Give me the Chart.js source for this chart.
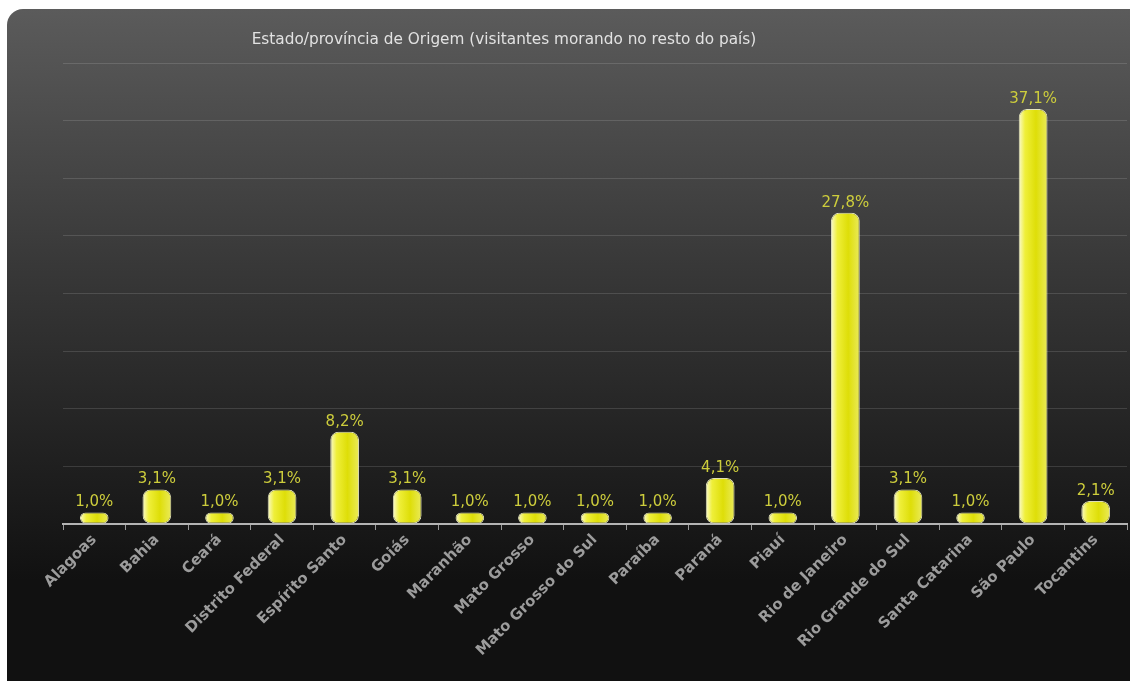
<!DOCTYPE html>
<html><head><meta charset="utf-8">
<script src="https://cdn.jsdelivr.net/npm/chart.js@4/dist/chart.umd.min.js"></script>
<style>html,body{margin:0;padding:0;background:#fff;overflow:hidden}#wrap{width:1130px;height:681px;position:relative}</style>
</head><body><div id="wrap"><canvas id="c" width="1130" height="681"></canvas></div>
<script>
const titleText = 'Estado/província de Origem (visitantes morando no resto do país)';
const categories = ['Alagoas','Bahia','Ceará','Distrito Federal','Espírito Santo','Goiás','Maranhão','Mato Grosso','Mato Grosso do Sul','Paraíba','Paraná','Piauí','Rio de Janeiro','Rio Grande do Sul','Santa Catarina','São Paulo','Tocantins'];
const counts = [1,3,1,3,8,3,1,1,1,1,4,1,27,3,1,36,2];
const percents = [1.0,3.1,1.0,3.1,8.2,3.1,1.0,1.0,1.0,1.0,4.1,1.0,27.8,3.1,1.0,37.1,2.1];
const yMax = 40;
const yStep = 5;

const BAR_PCT = 0.46;

const panelPlugin = {
  id: 'panel',
  beforeDraw(chart) {
    const ctx = chart.ctx;
    ctx.save();
    const x = 7, y = 9, w = 1150, h = 700, r = 16;
    const g = ctx.createLinearGradient(0, y, 0, 580);
    g.addColorStop(0, '#5b5b5b');
    g.addColorStop(0.45, '#383838');
    g.addColorStop(1, '#111111');
    ctx.fillStyle = g;
    ctx.beginPath();
    ctx.roundRect(x, y, w, h, r);
    ctx.fill();
    ctx.restore();
  },
  afterDraw(chart) {
    const ctx = chart.ctx;
    ctx.save();
    ctx.font = '15.3px "DejaVu Sans"';
    ctx.fillStyle = '#e2e2e2';
    ctx.textAlign = 'center';
    ctx.textBaseline = 'middle';
    ctx.fillText(titleText, 504, 40);
    ctx.restore();
  }
};

const labelPlugin = {
  id: 'valueLabels',
  afterDatasetsDraw(chart) {
    const ctx = chart.ctx;
    const meta = chart.getDatasetMeta(0);
    ctx.save();
    ctx.font = '15px "DejaVu Sans"';
    ctx.fillStyle = '#cdcd3c';
    ctx.textAlign = 'center';
    ctx.textBaseline = 'alphabetic';
    meta.data.forEach((el, i) => {
      ctx.fillText(percents[i].toFixed(1).replace('.', ',') + '%', el.x, el.y - 6);
    });
    ctx.restore();
  }
};

new Chart(document.getElementById('c'), {
  type: 'bar',
  data: {
    labels: categories,
    datasets: [{
      data: counts,
      barPercentage: BAR_PCT,
      categoryPercentage: 1,
      borderRadius: 8,
      borderSkipped: false,
      borderWidth: 1,
      borderColor: 'rgba(255,255,210,0.85)',
      backgroundColor: (c) => {
        const chart = c.chart;
        const xs = chart.scales && chart.scales.x;
        if (!xs || !chart.chartArea) return '#e2e210';
        const cx = xs.getPixelForValue(c.dataIndex);
        const w = xs.width / categories.length * BAR_PCT;
        const g = chart.ctx.createLinearGradient(cx - w / 2, 0, cx + w / 2, 0);
        g.addColorStop(0, '#fafad2');
        g.addColorStop(0.22, '#efef3a');
        g.addColorStop(0.6, '#dede08');
        g.addColorStop(1, '#eaea5a');
        return g;
      }
    }]
  },
  options: {
    responsive: false,
    animation: false,
    devicePixelRatio: 1,
    layout: { padding: { left: 63, right: 3, top: 63, bottom: 0 } },
    plugins: { legend: { display: false }, title: { display: false }, tooltip: { enabled: false } },
    scales: {
      x: {
        offset: true,
        grid: { display: true, drawOnChartArea: false, drawTicks: true, tickLength: 6, color: '#9a9a9a', offset: true },
        border: { display: true, color: '#b4b4b4', width: 2 },
        ticks: { color: '#9c9c9c', font: { family: 'DejaVu Sans', weight: 'bold', size: 15 }, minRotation: 45, maxRotation: 45, autoSkip: false, padding: 1 },
        afterFit: (s) => { s.height = 157; }
      },
      y: {
        min: 0, max: yMax,
        ticks: { display: false, stepSize: yStep },
        grid: { color: 'rgba(255,255,255,0.13)', drawTicks: false, lineWidth: 1 },
        border: { display: false },
        afterFit: (s) => { s.width = 0; }
      }
    }
  },
  plugins: [panelPlugin, labelPlugin]
});
</script>
</body></html>
